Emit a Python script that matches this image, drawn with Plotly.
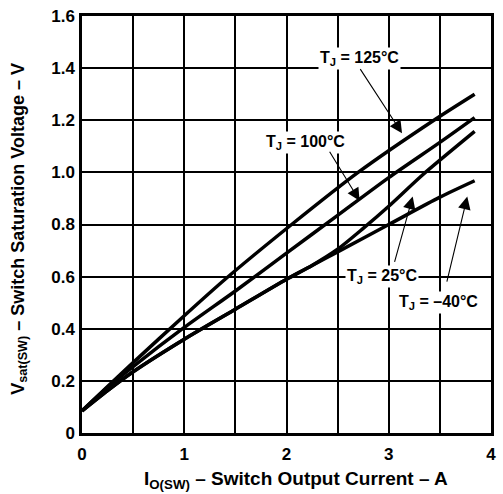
import plotly.graph_objects as go

# Switch saturation voltage vs. switch output current, per junction temperature
current_125 = [0.0, 0.25, 0.5, 1.0, 1.4, 2.05, 2.7, 3.46, 3.84]
vsat_125 = [0.085, 0.178, 0.27, 0.45, 0.59, 0.80, 1.0, 1.205, 1.30]

current_100 = [0.0, 0.25, 0.5, 1.0, 1.5, 2.0, 2.5, 3.0, 3.5, 3.84]
vsat_100 = [0.085, 0.175, 0.255, 0.405, 0.545, 0.69, 0.835, 0.98, 1.115, 1.21]

current_25 = [0.0, 0.25, 0.5, 1.0, 1.5, 2.0, 2.25, 2.5, 2.75, 3.0, 3.33, 3.84]
vsat_25 = [0.085, 0.163, 0.235, 0.36, 0.475, 0.59, 0.643, 0.705, 0.785, 0.87, 0.99, 1.157]

current_m40 = [0.0, 0.25, 0.5, 1.0, 1.5, 2.0, 2.25, 2.5, 3.0, 3.5, 3.84]
vsat_m40 = [0.085, 0.163, 0.235, 0.36, 0.475, 0.59, 0.643, 0.695, 0.80, 0.905, 0.968]

x_ticks = [0, 1, 2, 3, 4]
y_ticks = [0, 0.2, 0.4, 0.6, 0.8, 1.0, 1.2, 1.4, 1.6]
y_tick_text = ["0", "0.2", "0.4", "0.6", "0.8", "1.0", "1.2", "1.4", "1.6"]

FONT = "Liberation Sans"
CLEAR = "rgba(0,0,0,0)"

fig = go.Figure()
for xs, ys in [(current_125, vsat_125), (current_100, vsat_100),
               (current_25, vsat_25), (current_m40, vsat_m40)]:
    fig.add_trace(go.Scatter(
        x=xs, y=ys, mode="lines",
        line=dict(color="black", width=3.5, shape="spline", smoothing=0.7),
        showlegend=False, hoverinfo="skip",
    ))

# Curve labels (text) and their pointer arrows
labels = [
    ("T<sub>J</sub> = 125°C", 2.715, 1.436),
    ("T<sub>J</sub> = 100°C", 2.184, 1.116),
    ("T<sub>J</sub> = 25°C", 2.93, 0.602),
    ("T<sub>J</sub> = –40°C", 3.49, 0.499),
]
for text, lx, ly in labels:
    fig.add_annotation(
        x=lx, y=ly, xref="x", yref="y", text=f"<b>{text}</b>",
        showarrow=False, bgcolor="white", borderpad=1,
        xanchor="center", yanchor="middle",
        font=dict(family=FONT, size=16, color="black"),
    )

arrows = [
    ((2.712, 1.402), (3.13, 1.150)),
    ((2.413, 1.085), (2.715, 0.891)),
    ((3.053, 0.651), (3.234, 0.907)),
    ((3.565, 0.575), (3.768, 0.907)),
]
for (tx, ty), (hx, hy) in arrows:
    fig.add_annotation(
        x=hx, y=hy, ax=tx, ay=ty, xref="x", yref="y", axref="x", ayref="y",
        text="", showarrow=True, arrowhead=2, arrowsize=2.3, arrowwidth=1.1,
        arrowcolor="black", standoff=0,
    )

# Axis titles
fig.add_annotation(
    x=0.523, y=-0.112, xref="paper", yref="paper",
    xanchor="center", yanchor="middle",
    text="<b>I<sub>O(SW)</sub> – Switch Output Current – A</b>",
    showarrow=False, font=dict(family=FONT, size=19, color="black"),
)
fig.add_annotation(
    x=-0.155, y=0.489, xref="paper", yref="paper", textangle=-90,
    xanchor="center", yanchor="middle",
    text="<b>V<sub>sat(SW)</sub> – Switch Saturation Voltage – V</b>",
    showarrow=False, font=dict(family=FONT, size=18, color="black"),
)

axis_common = dict(
    showline=True, linecolor="black", linewidth=2.5, mirror=True,
    showgrid=True, gridcolor="black", gridwidth=1.5,
    zeroline=False, ticks="outside", tickcolor=CLEAR,
    tickfont=dict(family=FONT, size=17, color="black", weight="bold"),
)
fig.update_xaxes(range=[0, 4], tickvals=x_ticks, ticklen=4,
                 minor=dict(dtick=0.5, showgrid=True, gridcolor="black",
                            gridwidth=1.5, ticks=""),
                 **axis_common)
fig.update_yaxes(range=[0, 1.6], tickvals=y_ticks, ticktext=y_tick_text,
                 ticklen=1, **axis_common)

fig.update_layout(
    width=503, height=494,
    margin=dict(l=82, r=7, t=13, b=61),
    paper_bgcolor="white", plot_bgcolor="white",
    font=dict(family=FONT, color="black"),
)

fig.write_html("out.html")
